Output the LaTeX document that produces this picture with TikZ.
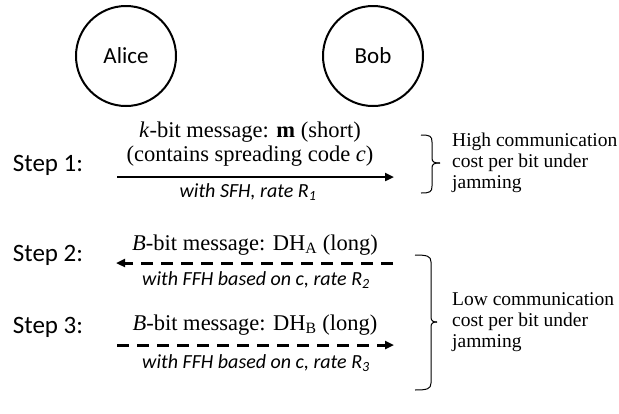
\documentclass[tikz,border=0pt]{standalone}
\usepackage{fontspec}
\setmainfont{Liberation Serif}
\newfontfamily\calib{Carlito}
\usetikzlibrary{arrows.meta}
\begin{document}
\begin{tikzpicture}[x=1pt,y=-1pt,
  party/.style={draw,circle,line width=2pt,minimum size=100pt,inner sep=0pt,font=\calib\fontsize{23}{27}\selectfont},
  steplabel/.style={inner sep=0pt,font=\calib\fontsize{25}{29}\selectfont},
  msg/.style={inner sep=0pt,font=\fontsize{22.5}{27}\selectfont},
  note/.style={inner sep=0pt,font=\calib\itshape\fontsize{20}{24}\selectfont},
  remark/.style={inner sep=0pt,anchor=west,align=left,font=\fontsize{19.5}{21}\selectfont},
  solidarrow/.style={line width=2.6pt,-{Triangle[length=9pt,width=8pt]}},
  dasharrow/.style={line width=3pt,dash pattern=on 12pt off 8pt,-{Triangle[length=9pt,width=8pt]}},
  bracket/.style={line width=1pt}]
\useasboundingbox (0,0) rectangle (619,413);
\node[party] (alice) at (126,56) {Alice};
\node[party] (bob) at (373,56) {Bob};
% Step 1
\node[steplabel] (s1) at (48,165) {Step 1:};
\node[msg] (m1a) at (250,132) {\textit{k}-bit message: \textbf{m} (short)};
\node[msg] (m1b) at (250,156) {(contains spreading code \textit{c})};
\node[note] (n1) at (248,192) {with SFH, rate R\textsubscript{1}};
\coordinate (a1s) at (117,177);
\coordinate (a1e) at (394,177);
\draw[solidarrow] (a1s) -- (a1e);
% Step 2
\node[steplabel] (s2) at (48,255) {Step 2:};
\node[msg] (m2) at (255,245) {\textit{B}-bit message: DH\textsubscript{A} (long)};
\node[note] (n2) at (256,280) {with FFH based on c, rate R\textsubscript{2}};
\coordinate (a2s) at (393,263);
\coordinate (a2e) at (116,263);
\draw[dasharrow] (a2s) -- (a2e);
% Step 3
\node[steplabel] (s3) at (48,327) {Step 3:};
\node[msg] (m3) at (255,325) {\textit{B}-bit message: DH\textsubscript{B} (long)};
\node[note] (n3) at (256,363) {with FFH based on c, rate R\textsubscript{3}};
\coordinate (a3s) at (117,345);
\coordinate (a3e) at (394,345);
\draw[dasharrow] (a3s) -- (a3e);
% Brackets
\coordinate (b1t) at (421,135);
\coordinate (b1m) at (440,163);
\coordinate (b1b) at (421,193);
\draw[bracket] (b1t) .. controls (430,135) and (432,136) .. (432,142) -- (432,158)
  .. controls (432,162) and (434,163) .. (b1m);
\draw[bracket] (b1b) .. controls (430,193) and (432,192) .. (432,186) -- (432,168)
  .. controls (432,164) and (434,163) .. (b1m);
\node[remark] (r1) at (452,163) {High communication\\cost per bit under\\jamming};
\coordinate (b2t) at (415,255);
\coordinate (b2m) at (437,322);
\coordinate (b2b) at (415,390);
\draw[bracket] (b2t) .. controls (427,255) and (431,256) .. (431,262) -- (431,317)
  .. controls (431,321) and (433,322) .. (b2m);
\draw[bracket] (b2b) .. controls (427,390) and (431,389) .. (431,383) -- (431,327)
  .. controls (431,323) and (433,322) .. (b2m);
\node[remark] (r2) at (452,322) {Low communication\\cost per bit under\\jamming};
\end{tikzpicture}
\end{document}
